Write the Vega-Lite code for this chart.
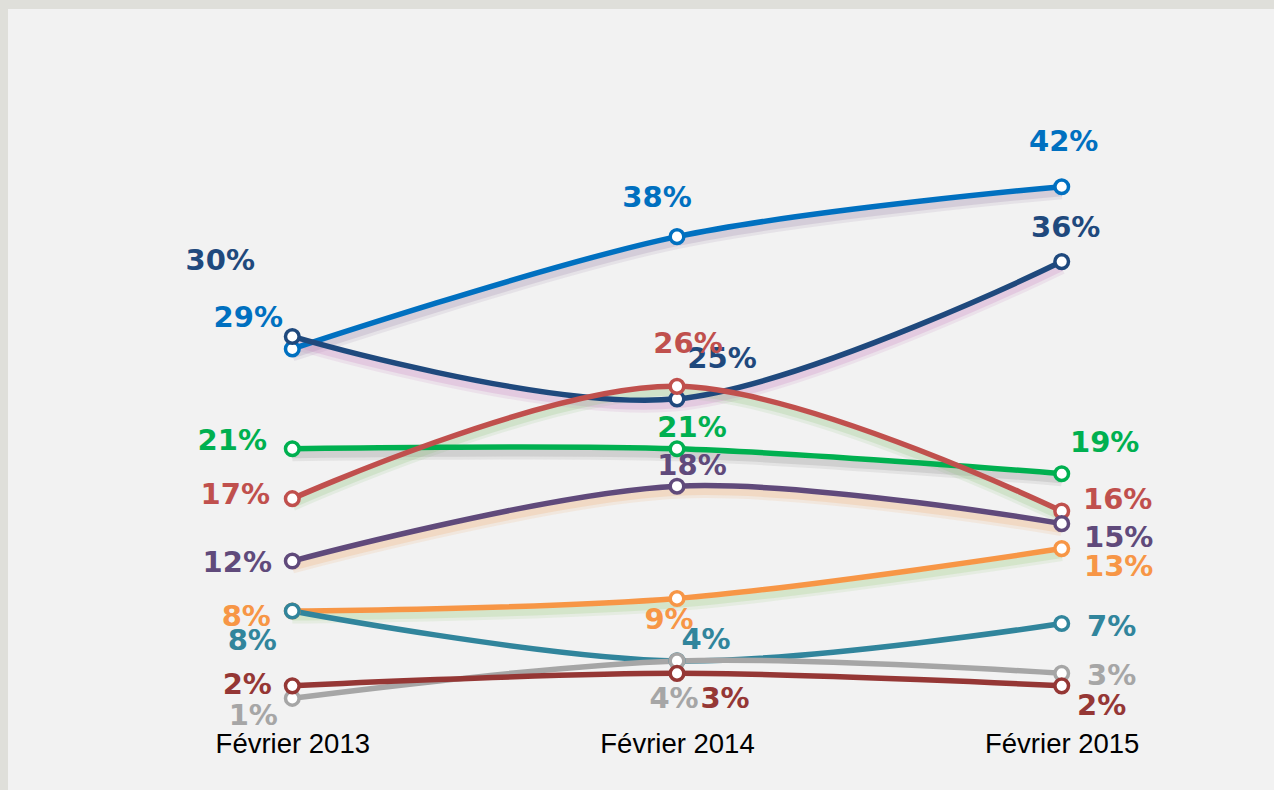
{
  "$schema": "https://vega.github.io/schema/vega-lite/v6.json",
  "autosize": {"type": "none"},
  "width": 1266,
  "height": 781,
  "padding": {"left": 8, "top": 9, "right": 0, "bottom": 0},
  "background": "#dfdfda",
  "config": {"view": {"fill": "#f2f2f2", "stroke": null}},
  "data": {
    "values": [
      {"serie": "Série 1", "periode": "Février 2013", "part": 0.29},
      {"serie": "Série 1", "periode": "Février 2014", "part": 0.38},
      {"serie": "Série 1", "periode": "Février 2015", "part": 0.42},
      {"serie": "Série 2", "periode": "Février 2013", "part": 0.30},
      {"serie": "Série 2", "periode": "Février 2014", "part": 0.25},
      {"serie": "Série 2", "periode": "Février 2015", "part": 0.36},
      {"serie": "Série 3", "periode": "Février 2013", "part": 0.21},
      {"serie": "Série 3", "periode": "Février 2014", "part": 0.21},
      {"serie": "Série 3", "periode": "Février 2015", "part": 0.19},
      {"serie": "Série 4", "periode": "Février 2013", "part": 0.17},
      {"serie": "Série 4", "periode": "Février 2014", "part": 0.26},
      {"serie": "Série 4", "periode": "Février 2015", "part": 0.16},
      {"serie": "Série 5", "periode": "Février 2013", "part": 0.12},
      {"serie": "Série 5", "periode": "Février 2014", "part": 0.18},
      {"serie": "Série 5", "periode": "Février 2015", "part": 0.15},
      {"serie": "Série 6", "periode": "Février 2013", "part": 0.08},
      {"serie": "Série 6", "periode": "Février 2014", "part": 0.09},
      {"serie": "Série 6", "periode": "Février 2015", "part": 0.13},
      {"serie": "Série 7", "periode": "Février 2013", "part": 0.08},
      {"serie": "Série 7", "periode": "Février 2014", "part": 0.04},
      {"serie": "Série 7", "periode": "Février 2015", "part": 0.07},
      {"serie": "Série 8", "periode": "Février 2013", "part": 0.01},
      {"serie": "Série 8", "periode": "Février 2014", "part": 0.04},
      {"serie": "Série 8", "periode": "Février 2015", "part": 0.03},
      {"serie": "Série 9", "periode": "Février 2013", "part": 0.02},
      {"serie": "Série 9", "periode": "Février 2014", "part": 0.03},
      {"serie": "Série 9", "periode": "Février 2015", "part": 0.02}
    ]
  },
  "encoding": {
    "x": {
      "field": "periode", "type": "ordinal",
      "scale": {"type": "point", "padding": 0.6454, "align": 0.5725},
      "axis": {
        "title": null, "domain": false, "ticks": false, "tickSize": 0, "grid": false,
        "labelAngle": 0, "labelFont": "Liberation Sans", "labelFontSize": 27.5,
        "labelColor": "#000000", "labelBaseline": "alphabetic",
        "offset": -79.2, "labelPadding": 42
      }
    },
    "y": {
      "field": "part", "type": "quantitative",
      "scale": {"domain": [-0.06347, 0.56243], "nice": false, "zero": false},
      "axis": null
    }
  },
  "layer": [
    {
      "transform": [{"filter": "indexof(['Série 1','Série 2','Série 3','Série 4','Série 5','Série 6'], datum.serie) >= 0"}],
      "mark": {"type": "line", "interpolate": "cardinal", "strokeWidth": 13, "yOffset": 6, "opacity": 0.14},
      "encoding": {
        "stroke": {
          "field": "serie", "type": "nominal", "legend": null,
          "scale": {
            "domain": ["Série 1","Série 2","Série 3","Série 4","Série 5","Série 6"],
            "range": ["#9a86a8","#c87cc0","#8c8c8c","#8cc47c","#f2aa6a","#9ccc7c"]
          }
        }
      }
    },
    {
      "transform": [{"filter": "indexof(['Série 1','Série 2','Série 3','Série 4','Série 5','Série 6'], datum.serie) >= 0"}],
      "mark": {"type": "line", "interpolate": "cardinal", "strokeWidth": 7, "yOffset": 6, "opacity": 0.22},
      "encoding": {
        "stroke": {"field": "serie", "type": "nominal", "legend": null}
      }
    },
    {
      "mark": {"type": "line", "interpolate": "cardinal", "strokeWidth": 5.5},
      "encoding": {
        "color": {
          "field": "serie", "type": "nominal", "legend": null,
          "scale": {
            "domain": ["Série 1","Série 2","Série 3","Série 4","Série 5","Série 6","Série 7","Série 8","Série 9"],
            "range": ["#0070c0","#1f497d","#00b050","#c0504d","#604a7b","#f79646","#31859c","#a6a6a6","#953735"]
          }
        }
      }
    },
    {
      "mark": {"type": "point", "shape": "circle", "filled": false, "fill": "#ffffff", "fillOpacity": 1, "opacity": 1, "size": 185, "strokeWidth": 3.5},
      "encoding": {
        "color": {"field": "serie", "type": "nominal", "legend": null}
      }
    },
    {
      "encoding": {
        "color": {"field": "serie", "type": "nominal", "legend": null},
        "text": {"field": "part", "type": "quantitative", "format": ".0%"}
      },
      "layer": [
        {"transform": [{"filter": "datum.serie == 'Série 1' && datum.periode == 'Février 2013'"}], "mark": {"type": "text", "font": "DejaVu Sans", "fontWeight": "bold", "fontSize": 29, "align": "center", "baseline": "alphabetic", "dx": -44, "dy": -21.6}},
        {"transform": [{"filter": "datum.serie == 'Série 2' && datum.periode == 'Février 2013'"}], "mark": {"type": "text", "font": "DejaVu Sans", "fontWeight": "bold", "fontSize": 29, "align": "center", "baseline": "alphabetic", "dx": -72, "dy": -66.5}},
        {"transform": [{"filter": "datum.serie == 'Série 3' && datum.periode == 'Février 2013'"}], "mark": {"type": "text", "font": "DejaVu Sans", "fontWeight": "bold", "fontSize": 29, "align": "center", "baseline": "alphabetic", "dx": -60, "dy": 1}},
        {"transform": [{"filter": "datum.serie == 'Série 4' && datum.periode == 'Février 2013'"}], "mark": {"type": "text", "font": "DejaVu Sans", "fontWeight": "bold", "fontSize": 29, "align": "center", "baseline": "alphabetic", "dx": -57, "dy": 5}},
        {"transform": [{"filter": "datum.serie == 'Série 5' && datum.periode == 'Février 2013'"}], "mark": {"type": "text", "font": "DejaVu Sans", "fontWeight": "bold", "fontSize": 29, "align": "center", "baseline": "alphabetic", "dx": -55, "dy": 11}},
        {"transform": [{"filter": "datum.serie == 'Série 6' && datum.periode == 'Février 2013'"}], "mark": {"type": "text", "font": "DejaVu Sans", "fontWeight": "bold", "fontSize": 29, "align": "center", "baseline": "alphabetic", "dx": -46, "dy": 15}},
        {"transform": [{"filter": "datum.serie == 'Série 7' && datum.periode == 'Février 2013'"}], "mark": {"type": "text", "font": "DejaVu Sans", "fontWeight": "bold", "fontSize": 29, "align": "center", "baseline": "alphabetic", "dx": -40, "dy": 39}},
        {"transform": [{"filter": "datum.serie == 'Série 8' && datum.periode == 'Février 2013'"}], "mark": {"type": "text", "font": "DejaVu Sans", "fontWeight": "bold", "fontSize": 29, "align": "center", "baseline": "alphabetic", "dx": -39, "dy": 27}},
        {"transform": [{"filter": "datum.serie == 'Série 9' && datum.periode == 'Février 2013'"}], "mark": {"type": "text", "font": "DejaVu Sans", "fontWeight": "bold", "fontSize": 29, "align": "center", "baseline": "alphabetic", "dx": -45, "dy": 8}},
        {"transform": [{"filter": "datum.serie == 'Série 1' && datum.periode == 'Février 2014'"}], "mark": {"type": "text", "font": "DejaVu Sans", "fontWeight": "bold", "fontSize": 29, "align": "center", "baseline": "alphabetic", "dx": -20, "dy": -30}},
        {"transform": [{"filter": "datum.serie == 'Série 2' && datum.periode == 'Février 2014'"}], "mark": {"type": "text", "font": "DejaVu Sans", "fontWeight": "bold", "fontSize": 29, "align": "center", "baseline": "alphabetic", "dx": 45, "dy": -30.6}},
        {"transform": [{"filter": "datum.serie == 'Série 3' && datum.periode == 'Février 2014'"}], "mark": {"type": "text", "font": "DejaVu Sans", "fontWeight": "bold", "fontSize": 29, "align": "center", "baseline": "alphabetic", "dx": 15, "dy": -12}},
        {"transform": [{"filter": "datum.serie == 'Série 4' && datum.periode == 'Février 2014'"}], "mark": {"type": "text", "font": "DejaVu Sans", "fontWeight": "bold", "fontSize": 29, "align": "center", "baseline": "alphabetic", "dx": 11, "dy": -33}},
        {"transform": [{"filter": "datum.serie == 'Série 5' && datum.periode == 'Février 2014'"}], "mark": {"type": "text", "font": "DejaVu Sans", "fontWeight": "bold", "fontSize": 29, "align": "center", "baseline": "alphabetic", "dx": 15, "dy": -11}},
        {"transform": [{"filter": "datum.serie == 'Série 6' && datum.periode == 'Février 2014'"}], "mark": {"type": "text", "font": "DejaVu Sans", "fontWeight": "bold", "fontSize": 29, "align": "center", "baseline": "alphabetic", "dx": -8, "dy": 31}},
        {"transform": [{"filter": "datum.serie == 'Série 7' && datum.periode == 'Février 2014'"}], "mark": {"type": "text", "font": "DejaVu Sans", "fontWeight": "bold", "fontSize": 29, "align": "center", "baseline": "alphabetic", "dx": 29, "dy": -11.6}},
        {"transform": [{"filter": "datum.serie == 'Série 8' && datum.periode == 'Février 2014'"}], "mark": {"type": "text", "font": "DejaVu Sans", "fontWeight": "bold", "fontSize": 29, "align": "center", "baseline": "alphabetic", "dx": -3, "dy": 47.4}},
        {"transform": [{"filter": "datum.serie == 'Série 9' && datum.periode == 'Février 2014'"}], "mark": {"type": "text", "font": "DejaVu Sans", "fontWeight": "bold", "fontSize": 29, "align": "center", "baseline": "alphabetic", "dx": 48, "dy": 35}},
        {"transform": [{"filter": "datum.serie == 'Série 1' && datum.periode == 'Février 2015'"}], "mark": {"type": "text", "font": "DejaVu Sans", "fontWeight": "bold", "fontSize": 29, "align": "center", "baseline": "alphabetic", "dx": 2, "dy": -36}},
        {"transform": [{"filter": "datum.serie == 'Série 2' && datum.periode == 'Février 2015'"}], "mark": {"type": "text", "font": "DejaVu Sans", "fontWeight": "bold", "fontSize": 29, "align": "center", "baseline": "alphabetic", "dx": 4, "dy": -25}},
        {"transform": [{"filter": "datum.serie == 'Série 3' && datum.periode == 'Février 2015'"}], "mark": {"type": "text", "font": "DejaVu Sans", "fontWeight": "bold", "fontSize": 29, "align": "center", "baseline": "alphabetic", "dx": 43, "dy": -22}},
        {"transform": [{"filter": "datum.serie == 'Série 4' && datum.periode == 'Février 2015'"}], "mark": {"type": "text", "font": "DejaVu Sans", "fontWeight": "bold", "fontSize": 29, "align": "center", "baseline": "alphabetic", "dx": 56, "dy": -2}},
        {"transform": [{"filter": "datum.serie == 'Série 5' && datum.periode == 'Février 2015'"}], "mark": {"type": "text", "font": "DejaVu Sans", "fontWeight": "bold", "fontSize": 29, "align": "center", "baseline": "alphabetic", "dx": 57, "dy": 23}},
        {"transform": [{"filter": "datum.serie == 'Série 6' && datum.periode == 'Février 2015'"}], "mark": {"type": "text", "font": "DejaVu Sans", "fontWeight": "bold", "fontSize": 29, "align": "center", "baseline": "alphabetic", "dx": 57, "dy": 27.4}},
        {"transform": [{"filter": "datum.serie == 'Série 7' && datum.periode == 'Février 2015'"}], "mark": {"type": "text", "font": "DejaVu Sans", "fontWeight": "bold", "fontSize": 29, "align": "center", "baseline": "alphabetic", "dx": 50, "dy": 12.5}},
        {"transform": [{"filter": "datum.serie == 'Série 8' && datum.periode == 'Février 2015'"}], "mark": {"type": "text", "font": "DejaVu Sans", "fontWeight": "bold", "fontSize": 29, "align": "center", "baseline": "alphabetic", "dx": 50, "dy": 11.6}},
        {"transform": [{"filter": "datum.serie == 'Série 9' && datum.periode == 'Février 2015'"}], "mark": {"type": "text", "font": "DejaVu Sans", "fontWeight": "bold", "fontSize": 29, "align": "center", "baseline": "alphabetic", "dx": 40, "dy": 29}}
      ]
    }
  ]
}
